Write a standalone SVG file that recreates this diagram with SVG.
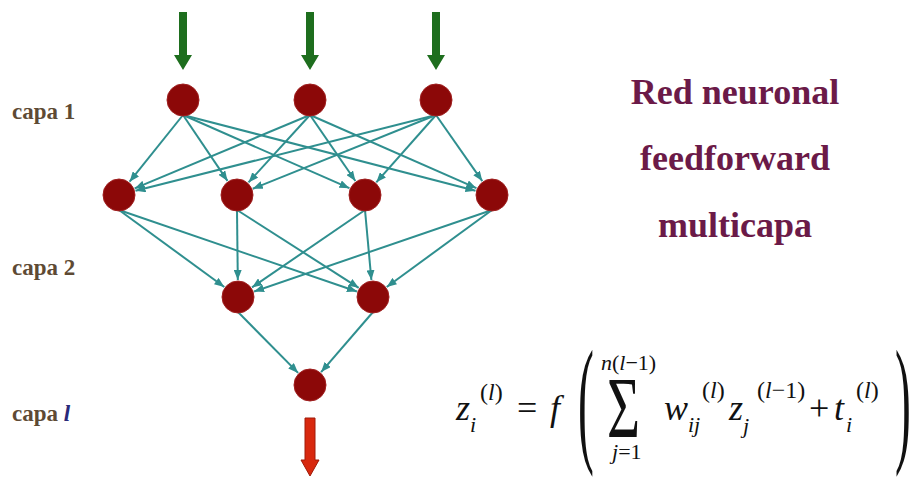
<svg xmlns="http://www.w3.org/2000/svg" width="911" height="479" viewBox="0 0 911 479">
<style>
.node{fill:#8c0808;stroke:#a02020;stroke-width:1}
.edge{stroke:#2f8f8f;stroke-width:2;fill:none;marker-end:url(#ah)}
.lbl{font-family:"Liberation Serif","Times New Roman",serif;font-weight:bold;font-size:23px;fill:#5e4a34}
.title{font-family:"Liberation Serif","Times New Roman",serif;font-weight:bold;font-size:36px;fill:#6b1a48;text-anchor:middle}
.m{font-family:"Liberation Serif","Times New Roman",serif;fill:#111}
.it{font-family:"Liberation Serif","Times New Roman",serif;font-style:italic;fill:#111}
.in{fill:#1e6e1e}
.out{fill:#d8280e;stroke:#a01a08;stroke-width:1}
</style>
<defs>
<marker id="ah" viewBox="0 0 10 8" refX="10" refY="4" markerWidth="10" markerHeight="8" markerUnits="userSpaceOnUse" orient="auto">
<path d="M0,0 L10,4 L0,8 z" fill="#2f8f8f"/>
</marker>
</defs>
<rect width="911" height="479" fill="#fff"/>

<g id="inputs">
<path class="in" d="M179,12 H187 V55 H192 L183,70 L174,55 H179 Z"/>
<path class="in" d="M306,12 H314 V55 H319 L310,70 L301,55 H306 Z"/>
<path class="in" d="M432,12 H440 V55 H445 L436,70 L427,55 H432 Z"/>
</g>

<g id="connectors">
<line class="edge" x1="183" y1="115" x2="129.6" y2="181.7"/>
<line class="edge" x1="183" y1="115" x2="227.5" y2="180.9"/>
<line class="edge" x1="183" y1="115" x2="349.4" y2="188.2"/>
<line class="edge" x1="183" y1="115" x2="475.5" y2="190.7"/>
<line class="edge" x1="310" y1="115" x2="134.7" y2="188.4"/>
<line class="edge" x1="310" y1="115" x2="248.5" y2="182.4"/>
<line class="edge" x1="310" y1="115" x2="355.4" y2="181"/>
<line class="edge" x1="310" y1="115" x2="476.4" y2="188.2"/>
<line class="edge" x1="436" y1="115" x2="135.5" y2="190.8"/>
<line class="edge" x1="436" y1="115" x2="252.8" y2="188.7"/>
<line class="edge" x1="436" y1="115" x2="376.3" y2="182.3"/>
<line class="edge" x1="436" y1="115" x2="482.3" y2="181.1"/>
<line class="edge" x1="119" y1="210" x2="224.3" y2="287"/>
<line class="edge" x1="119" y1="210" x2="356.9" y2="291.5"/>
<line class="edge" x1="237" y1="210" x2="237.8" y2="280"/>
<line class="edge" x1="237" y1="210" x2="358.7" y2="287.8"/>
<line class="edge" x1="365" y1="210" x2="252" y2="287.4"/>
<line class="edge" x1="365" y1="210" x2="371.4" y2="280.1"/>
<line class="edge" x1="492" y1="210" x2="254.1" y2="291.5"/>
<line class="edge" x1="492" y1="210" x2="386.7" y2="287"/>
<line class="edge" x1="238" y1="312" x2="298.1" y2="372.9"/>
<line class="edge" x1="373" y1="312" x2="321.1" y2="372.1"/>
</g>

<g id="n1_1"><circle class="node" cx="183" cy="100" r="16"/></g>
<g id="n1_2"><circle class="node" cx="310" cy="100" r="16"/></g>
<g id="n1_3"><circle class="node" cx="436" cy="100" r="16"/></g>
<g id="n2_1"><circle class="node" cx="119" cy="195" r="16"/></g>
<g id="n2_2"><circle class="node" cx="237" cy="195" r="16"/></g>
<g id="n2_3"><circle class="node" cx="365" cy="195" r="16"/></g>
<g id="n2_4"><circle class="node" cx="492" cy="195" r="16"/></g>
<g id="n3_1"><circle class="node" cx="238" cy="297" r="16"/></g>
<g id="n3_2"><circle class="node" cx="373" cy="297" r="16"/></g>
<g id="n4_1"><circle class="node" cx="310" cy="385" r="16"/></g>

<g id="output">
<path class="out" d="M305,418 H315 V460 H319 L310,476 L301,460 H305 Z"/>
</g>

<g id="labels">
<text class="lbl" x="12" y="119">capa 1</text>
<text class="lbl" x="12" y="275">capa 2</text>
<text class="lbl" x="12" y="421">capa <tspan font-style="italic" fill="#2a2a7a">l</tspan></text>
</g>

<g id="title">
<text class="title" x="735" y="104">Red neuronal</text>
<text class="title" x="735" y="170">feedforward</text>
<text class="title" x="735" y="237">multicapa</text>
</g>

<g id="formula">
<text class="it" x="456" y="420" font-size="36">z</text>
<text class="m" x="480" y="400" font-size="24">(<tspan font-style="italic">l</tspan>)</text>
<text class="it" x="470" y="432" font-size="22">i</text>
<text class="m" x="517" y="420" font-size="36">=</text>
<text class="it" x="550" y="420" font-size="36">f</text>
<text class="m" transform="translate(578,447) scale(0.34,1)" font-size="140">(</text>
<text class="m" x="601" y="370" font-size="22"><tspan font-style="italic">n</tspan>(<tspan font-style="italic">l</tspan>−1)</text>
<text class="m" transform="translate(607,437) scale(0.66,1)" font-size="86">Σ</text>
<text class="m" x="612" y="459" font-size="22"><tspan font-style="italic">j</tspan>=1</text>
<text class="it" x="664" y="420" font-size="36">w</text>
<text class="it" x="688" y="432" font-size="22">ij</text>
<text class="m" x="702" y="398" font-size="24">(<tspan font-style="italic">l</tspan>)</text>
<text class="it" x="729" y="420" font-size="36">z</text>
<text class="it" x="743" y="433" font-size="22">j</text>
<text class="m" x="757" y="398" font-size="24">(<tspan font-style="italic">l</tspan>−1)</text>
<text class="m" x="809" y="420" font-size="36">+</text>
<text class="it" x="834" y="420" font-size="36">t</text>
<text class="it" x="846" y="432" font-size="22">i</text>
<text class="m" x="856" y="398" font-size="24">(<tspan font-style="italic">l</tspan>)</text>
<text class="m" transform="translate(895,447) scale(0.34,1)" font-size="140">)</text>
</g>
</svg>
